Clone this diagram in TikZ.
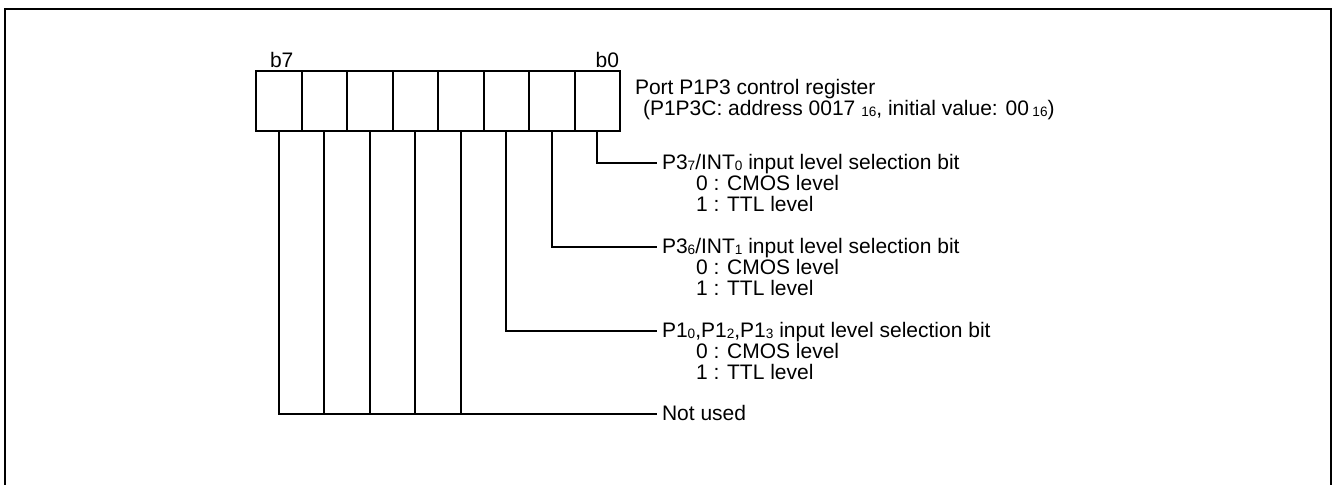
\documentclass[tikz,border=0pt]{standalone}
\usepackage{fontspec}
\setsansfont{Liberation Sans}
\newcommand{\lowidx}[1]{\raisebox{-0.4pt}{\fontsize{6.8}{7}\selectfont #1}}
\tikzset{
  regcell/.style={draw, line width=1pt, minimum width=22.75pt, minimum height=30pt, inner sep=0pt, outer sep=0pt},
  desc/.style={anchor=base west, inner sep=0pt, outer sep=0pt},
  lead/.style={line width=1pt, line join=miter}
}
\begin{document}
\begin{tikzpicture}[x=0.5pt, y=-0.5pt, font=\sffamily\fontsize{10.5}{12}\selectfont, line cap=rect]
	\useasboundingbox (0, 0) rectangle (1333, 485);
	
	% Rahmen
	\draw[line width=1.2pt] (5, 485) -- (5, 9) -- (1331, 9) -- (1331, 485);
	
	% Register
	\foreach \i in {0,...,7}
		\node[regcell] (bit\i) at ({620-45.5*(\i+0.5)}, 101) {};
	\node[desc] (lb7) at (270, 68) {b7};
	\node[desc, anchor=base east] (lb0) at (619, 68) {b0};
	\node[desc] (title) at (635, 95) {Port P1P3 control register};
	\node[desc] (addr) at (643, 116) {(P1P3C: address 0017 \lowidx{16}, initial value: 00\,\lowidx{16})};
	
	% Bit 0
	\node[desc] (sel0) at (662, 170) {P3\lowidx{7}/INT\lowidx{0} input level selection bit};
	\node[desc] (cmos0) at (696, 191) {0 : CMOS level};
	\node[desc] (ttl0) at (696, 212) {1 : TTL level};
	
	% Bit 1
	\node[desc] (sel1) at (662, 254) {P3\lowidx{6}/INT\lowidx{1} input level selection bit};
	\node[desc] (cmos1) at (696, 275) {0 : CMOS level};
	\node[desc] (ttl1) at (696, 296) {1 : TTL level};
	
	% Bit 2
	\node[desc] (sel2) at (662, 338) {P1\lowidx{0},P1\lowidx{2},P1\lowidx{3} input level selection bit};
	\node[desc] (cmos2) at (696, 359) {0 : CMOS level};
	\node[desc] (ttl2) at (696, 380) {1 : TTL level};
	
	% Bit 3 bis 7
	\node[desc] (unused) at (662, 421) {Not used};
	
	\coordinate (end0) at (656, 163);
	\coordinate (end1) at (656, 247);
	\coordinate (end2) at (656, 331);
	\coordinate (end3) at (656, 414);
	
	\draw[lead] (bit0.south) |- (end0);
	\draw[lead] (bit1.south) |- (end1);
	\draw[lead] (bit2.south) |- (end2);
	\draw[lead] (bit7.south) |- (end3);
	\foreach \i in {3,...,6}
		\draw[lead] (bit\i.south) -- (bit\i.south |- end3);
\end{tikzpicture}
\end{document}
